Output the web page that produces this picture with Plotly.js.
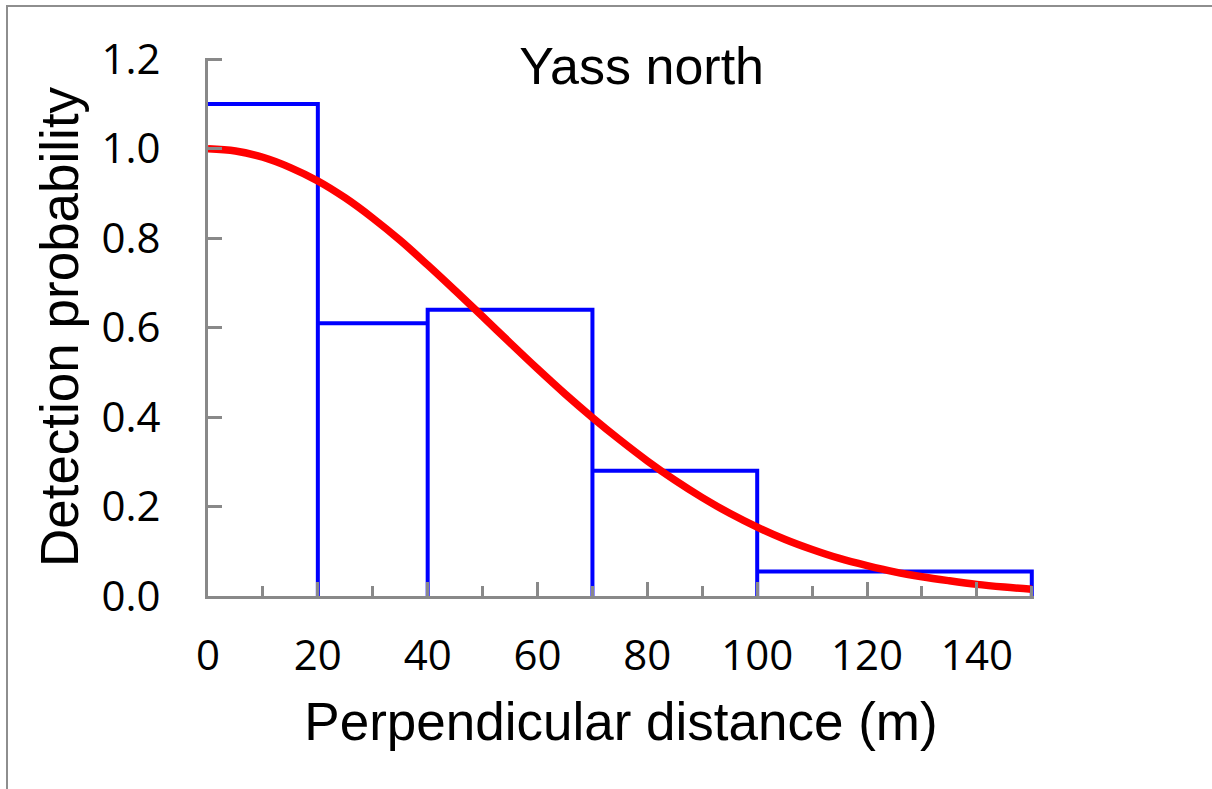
<!DOCTYPE html>
<html>
<head>
<meta charset="utf-8">
<script src="https://cdn.plot.ly/plotly-3.0.1.min.js"></script>
<style>
  html, body { margin: 0; padding: 0; background: #ffffff; }
  #wrap { position: relative; width: 1212px; height: 789px; overflow: hidden; }
  #chart { width: 1212px; height: 789px; }
  #frame { position: absolute; left: 6px; top: 5px; width: 1300px; height: 900px;
           border-top: 2px solid #8e8e8e; border-left: 2px solid #8e8e8e; pointer-events: none; }
</style>
</head>
<body>
<div id="wrap">
  <div id="chart"></div>
  <div id="frame"></div>
</div>
<script>
// Histogram of observed detections (bin edges in m, scaled heights)
const binEdges = [0, 20, 40, 70, 100, 150];
const binHeights = [1.10, 0.61, 0.64, 0.28, 0.055];

// Fitted detection function
const curveX = [0, 5, 10, 15, 20, 25, 30, 35, 40, 45, 50, 55, 60, 65, 70, 75, 80, 85, 90, 95, 100, 105, 110, 115, 120, 125, 130, 135, 140, 145, 150];
const curveY = [1.000, 0.995, 0.981, 0.958, 0.928, 0.890, 0.845, 0.795, 0.740, 0.683, 0.625, 0.566, 0.508, 0.452, 0.399, 0.349, 0.302, 0.259, 0.220, 0.185, 0.154, 0.127, 0.104, 0.084, 0.068, 0.054, 0.043, 0.034, 0.026, 0.020, 0.015];

const chartTitle = "Yass north";
const xTitle = "Perpendicular distance (m)";
const yTitle = "Detection probability";

// Outline of the histogram bars (no bottom edges; left edge lies on the axis)
const histX = [binEdges[0]];
const histY = [binHeights[0]];
for (let i = 0; i < binHeights.length; i++) {
  const hi = binEdges[i + 1], h = binHeights[i];
  if (i > 0) { histX.push(binEdges[i]); histY.push(h); }
  histX.push(hi, hi);
  histY.push(h, 0);
}

const axisGray = "#898989";
const tickFont = { family: "Open Sans, sans-serif", size: 42, color: "#000000" };
const titleFont = { family: "Liberation Sans, Arial, sans-serif", size: 53, color: "#000000" };

const traces = [
  { type: "scatter", mode: "lines", x: histX, y: histY,
    line: { color: "#0000ff", width: 4, shape: "linear" }, hoverinfo: "skip", showlegend: false },
  { type: "scatter", mode: "lines", x: curveX, y: curveY,
    line: { color: "#ff0000", width: 7.5, shape: "spline", smoothing: 1 }, showlegend: false }
];

const layout = {
  width: 1212, height: 789,
  paper_bgcolor: "#ffffff", plot_bgcolor: "#ffffff",
  margin: { l: 208, r: 178, t: 58, b: 193 },
  showlegend: false,
  title: {
    text: chartTitle, font: { family: "Liberation Sans, Arial, sans-serif", size: 52, color: "#000000" },
    xref: "paper", x: 0.525, xanchor: "center",
    yref: "container", y: 0.917, yanchor: "middle"
  },
  xaxis: {
    range: [0, 150.4], dtick: 20, tick0: 0,
    showgrid: false, zeroline: false,
    showline: true, linecolor: axisGray, linewidth: 3,
    ticks: "inside", ticklen: 14, tickwidth: 3, tickcolor: axisGray,
    minor: { dtick: 10, ticks: "inside", ticklen: 10, tickwidth: 3, tickcolor: axisGray, showgrid: false },
    tickfont: tickFont, ticklabelstandoff: 21,
    title: { text: xTitle, font: titleFont, standoff: 22 }
  },
  yaxis: {
    range: [0, 1.203], dtick: 0.2, tick0: 0, tickformat: ".1f",
    showgrid: false, zeroline: false,
    showline: true, linecolor: axisGray, linewidth: 3,
    ticks: "inside", ticklen: 14, tickwidth: 3, tickcolor: axisGray,
    tickfont: tickFont, ticklabelstandoff: 36,
    title: { text: yTitle, font: titleFont, standoff: 6 }
  }
};

Plotly.newPlot("chart", traces, layout, { displayModeBar: false, staticPlot: true });
</script>
</body>
</html>
